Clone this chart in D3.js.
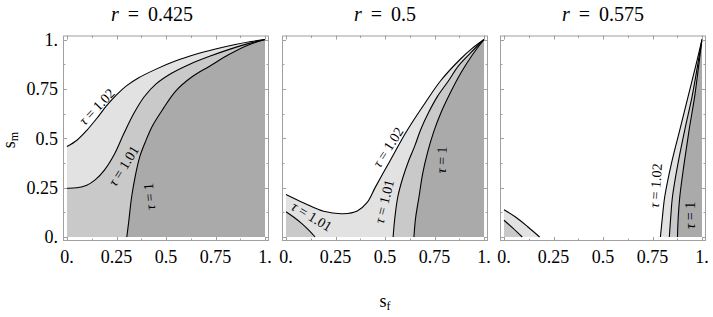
<!DOCTYPE html>
<html lang="en">
<head>
<meta charset="UTF-8" />
<title>tau contours</title>
<script src="https://d3js.org/d3.v7.min.js"></script>
<style>
  body { margin: 0; background: #fff; }
</style>
</head>
<body>
<script>
// panel titles and axis ticks
const rValues = ["0.425", "0.5", "0.575"];
const tickValues = [0, 0.25, 0.5, 0.75, 1];
const tickLabels = ["0.", "0.25", "0.5", "0.75", "1."];
const levels = ["1.02", "1.01", "1"];
const levelFill = ["#e2e2e2", "#c9c9c9", "#aaaaaa"];

// contour lines, [s_f, s_m] pairs
// r = 0.425
const p1_102 = [[0,0.458],[0.05,0.49],[0.1,0.54],[0.15,0.6],[0.2,0.665],[0.25,0.72],[0.3,0.765],[0.36,0.805],[0.45,0.85],[0.55,0.892],[0.65,0.925],[0.75,0.952],[0.85,0.975],[0.93,0.99],[1,1]];
const p1_101 = [[0,0.247],[0.05,0.249],[0.1,0.262],[0.142,0.289],[0.19,0.34],[0.24,0.42],[0.29,0.53],[0.34,0.63],[0.39,0.71],[0.45,0.775],[0.53,0.83],[0.62,0.875],[0.72,0.915],[0.82,0.95],[0.91,0.978],[1,1]];
const p1_100 = [[0.302,0],[0.312,0.08],[0.326,0.2],[0.345,0.31],[0.368,0.408],[0.395,0.48],[0.43,0.56],[0.486,0.65],[0.55,0.74],[0.63,0.81],[0.72,0.865],[0.82,0.925],[0.91,0.97],[1,1]];
// r = 0.5
const p2_102 = [[0,0.215],[0.09,0.172],[0.19,0.13],[0.29,0.118],[0.36,0.132],[0.41,0.175],[0.45,0.25],[0.5,0.34],[0.55,0.43],[0.6,0.52],[0.65,0.6],[0.7,0.675],[0.78,0.79],[0.88,0.9],[0.94,0.955],[1,1]];
const p2_101a = [[0,0.128],[0.04,0.1],[0.08,0.068],[0.115,0.035],[0.147,0]];
const p2_101b = [[0.541,0],[0.55,0.1],[0.565,0.205],[0.59,0.3],[0.621,0.39],[0.65,0.46],[0.68,0.543],[0.72,0.63],[0.765,0.712],[0.82,0.79],[0.87,0.865],[0.93,0.93],[1,1]];
const p2_100 = [[0.646,0],[0.655,0.1],[0.672,0.205],[0.69,0.32],[0.714,0.425],[0.745,0.53],[0.782,0.628],[0.83,0.73],[0.883,0.83],[0.94,0.92],[1,1]];
// r = 0.575
const p3_102a = [[0,0.138],[0.06,0.1],[0.12,0.052],[0.18,0]];
const p3_101a = [[0,0.085],[0.045,0.045],[0.092,0]];
const p3_102b = [[0.79,0],[0.8,0.1],[0.812,0.205],[0.846,0.374],[0.888,0.543],[0.93,0.712],[0.972,0.882],[1,1]];
const p3_101b = [[0.835,0],[0.842,0.1],[0.851,0.205],[0.879,0.374],[0.913,0.543],[0.95,0.712],[0.98,0.882],[1,1]];
const p3_100 = [[0.876,0],[0.88,0.1],[0.888,0.205],[0.91,0.374],[0.935,0.543],[0.963,0.712],[0.985,0.882],[1,1]];

// contour labels: level index, s_f, s_m, angle
const p1_labels = [[0,0.15,0.66,-46],[1,0.285,0.36,-58],[2,0.415,0.205,-95]];
const p2_labels = [[0,0.515,0.455,-57],[1,0.495,0.18,-76],[2,0.785,0.39,-88],[1,0.13,0.105,31]];
const p3_labels = [[0,0.765,0.26,-86],[2,0.938,0.11,-90]];

const panels = [
  { curves: [[0,p1_102],[1,p1_101],[2,p1_100]], labels: p1_labels },
  { curves: [[0,p2_102],[1,p2_101a],[1,p2_101b],[2,p2_100]], labels: p2_labels },
  { curves: [[0,p3_102a],[0,p3_102b],[1,p3_101a],[1,p3_101b],[2,p3_100]], labels: p3_labels }
];

const width = 713, height = 317;
const panelX = [67, 286, 504];
const size = 198;
const yTop = 39.5, yBot = 237;
const pad = 4;

const svg = d3.select("body").append("svg")
  .attr("width", width).attr("height", height);

// every text gets the serif face set on itself
function serifText(sel) {
  return sel.append("text").style("font-family", "'Liberation Serif'");
}

panels.forEach((p, i) => {
  const x = d3.scaleLinear().domain([0, 1]).range([panelX[i], panelX[i] + size]);
  const y = d3.scaleLinear().domain([0, 1]).range([yBot, yTop]);
  const g = svg.append("g");

  const line = d3.line().x(d => x(d[0])).y(d => y(d[1])).curve(d3.curveCatmullRom.alpha(0.5));

  // shaded regions, lightest level first
  const sorted = p.curves.slice().sort((a, b) => a[0] - b[0]);
  sorted.forEach(([lvl, pts]) => {
    const last = pts[pts.length - 1], first = pts[0];
    let close = [];
    if (last[0] === 1) {
      close.push([1, 0]);
      if (first[0] === 0) close.push([0, 0]);
    } else {
      close.push([0, 0]);
    }
    const d = line(pts) + close.map(c => "L" + x(c[0]) + "," + y(c[1])).join("") + "Z";
    g.append("path").attr("d", d).attr("fill", levelFill[lvl]);
  });

  // contour lines
  p.curves.forEach(([lvl, pts]) => {
    g.append("path").attr("d", line(pts))
      .attr("fill", "none").attr("stroke", "#000").attr("stroke-width", 1.1);
  });

  // frame
  const fl = panelX[i] - pad, fr = panelX[i] + size + pad;
  const ft = yTop - pad, fb = yBot + pad;
  g.append("rect").attr("x", fl + 0.5).attr("y", ft + 0.5)
    .attr("width", fr - fl - 1).attr("height", fb - ft - 1)
    .attr("fill", "none").attr("stroke", "#a0a0a0").attr("stroke-width", 1);

  const ticks = d3.range(0, 1.0001, 0.125);
  ticks.forEach(v => {
    const len = (Math.round(v * 8) % 2 === 0) ? 4 : 2.5;
    const tx = Math.round(x(v)) + 0.5, ty = Math.round(y(v)) + 0.5;
    g.append("line").attr("x1", tx).attr("x2", tx).attr("y1", fb).attr("y2", fb - len);
    g.append("line").attr("x1", tx).attr("x2", tx).attr("y1", ft).attr("y2", ft + len);
    g.append("line").attr("y1", ty).attr("y2", ty).attr("x1", fl).attr("x2", fl + len);
    g.append("line").attr("y1", ty).attr("y2", ty).attr("x1", fr).attr("x2", fr - len);
  });
  g.selectAll("line").attr("stroke", "#a0a0a0").attr("stroke-width", 1);

  // x tick labels
  tickValues.forEach((v, j) => {
    serifText(g).attr("x", x(v)).attr("y", 263)
      .attr("text-anchor", "middle").attr("font-size", 18)
      .text(tickLabels[j]);
  });

  // y tick labels only on the first panel
  if (i === 0) {
    tickValues.forEach((v, j) => {
      serifText(g).attr("x", 58).attr("y", y(v)).attr("dy", "0.35em")
        .attr("text-anchor", "end").attr("font-size", 18)
        .text(tickLabels[j]);
    });
  }

  // contour labels
  p.labels.forEach(([lvl, sf, sm, ang]) => {
    const t = serifText(g)
      .attr("transform", `translate(${x(sf)},${y(sm)}) rotate(${ang})`)
      .attr("text-anchor", "middle").attr("dy", "0.35em").attr("font-size", 14);
    t.append("tspan").style("font-style", "italic").text("τ");
    t.append("tspan").text(" = " + levels[lvl]);
  });

  // title
  const cx = i === 0 ? 152 : panelX[i] + size / 2;
  const title = serifText(svg).attr("x", cx).attr("y", 21)
    .attr("text-anchor", "middle").attr("font-size", 20);
  title.append("tspan").style("font-style", "italic").text("r");
  title.append("tspan").attr("dx", 4).text(" =");
  title.append("tspan").attr("dx", 4).text(" " + rValues[i]);
});

// axis labels
const xl = serifText(svg).attr("x", 385).attr("y", 307)
  .attr("text-anchor", "middle").attr("font-size", 18);
xl.append("tspan").text("s");
xl.append("tspan").attr("font-size", 12).attr("dy", 3).text("f");

const yl = serifText(svg).attr("transform", "translate(15,140) rotate(-90)")
  .attr("text-anchor", "middle").attr("font-size", 18);
yl.append("tspan").text("s");
yl.append("tspan").attr("font-size", 12).attr("dy", 3).text("m");
</script>
</body>
</html>
